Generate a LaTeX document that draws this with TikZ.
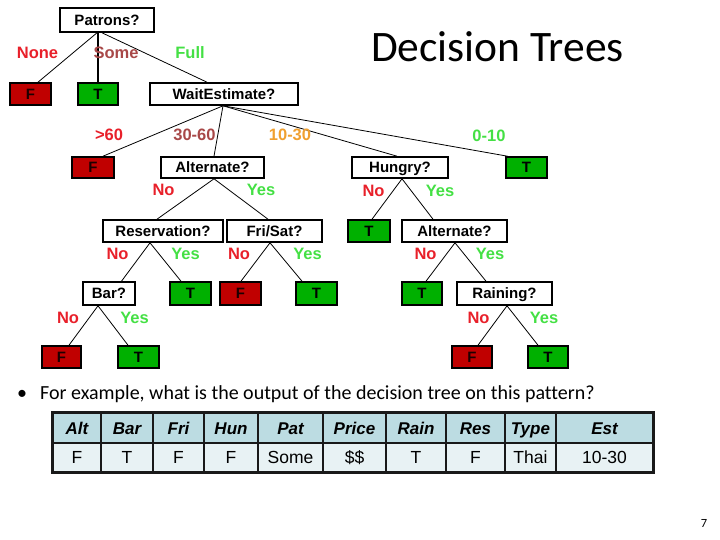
\documentclass[tikz,border=0pt]{standalone}
\usepackage{fontspec}
\setmainfont{Carlito}[Ligatures={NoCommon}]
\newfontfamily\arialf{Liberation Sans}
\usetikzlibrary{calc}
\definecolor{fred}{HTML}{C00000}
\definecolor{tgreen}{HTML}{00B000}
\definecolor{lred}{HTML}{E8202A}
\definecolor{lbrown}{HTML}{A84848}
\definecolor{lgreen}{HTML}{44E044}
\definecolor{lorange}{HTML}{F0A030}
\definecolor{thead}{HTML}{BCDCE2}
\definecolor{tdata}{HTML}{E8F2F4}
\tikzset{
  box/.style={draw=black, line width=1.6pt, rectangle, inner sep=0pt,
    minimum height=22pt, text height=10.7pt, text depth=0pt,
    font=\arialf\bfseries\fontsize{15}{18}\selectfont},
  qbox/.style={box, fill=white},
  fbox/.style={box, fill=fred, text=black!85!fred, minimum width=41pt},
  tbox/.style={box, fill=tgreen, text=black, minimum width=41pt},
  edge/.style={draw=black, line width=0.8pt},
  lab/.style={inner sep=0pt, text height=11.8pt, text depth=0pt,
    font=\arialf\bfseries\fontsize{16.5}{18}\selectfont},
  nolab/.style={lab, text=lred},
  yeslab/.style={lab, text=lgreen},
  cell/.style={draw=black!90, line width=1.5pt, rectangle, inner sep=0pt,
    text height=12.9pt, text depth=0pt},
  hcell/.style={cell, fill=thead, minimum height=30pt,
    font=\arialf\bfseries\itshape\fontsize{17}{20}\selectfont},
  dcell/.style={cell, fill=tdata, minimum height=29pt,
    font=\arialf\fontsize{17.5}{20}\selectfont},
}
\begin{document}
\begin{tikzpicture}[x=1pt,y=-1pt]
\useasboundingbox (0,0) rectangle (720,540);

% title and text
\node[anchor=base, inner sep=0pt] (title) at (497.5,62) {\fontsize{43.5}{50}\selectfont Decision Trees};
\node[anchor=base west, inner sep=0pt] (bul) at (17,399.5) {\fontsize{20}{24}\selectfont •};
\node[anchor=base west, inner sep=0pt] (q) at (40,399.5) {\fontsize{20}{24}\selectfont For example, what is the output of the decision tree on this pattern?};
\node[anchor=base, inner sep=0pt] (pg) at (704,527) {\fontsize{12.5}{14}\selectfont 7};

% tree nodes
\node[qbox, minimum width=94pt, minimum height=24pt] (patrons) at (107,20) {Patrons?};
\node[fbox] (fnone) at (30.5,94) {F};
\node[tbox, minimum width=40pt] (tsome) at (98,94) {T};
\node[qbox, minimum width=148pt] (wait) at (224,94) {WaitEstimate?};

\node[fbox, minimum width=42pt, minimum height=21pt] (f60) at (93,167.5) {F};
\node[qbox, minimum width=103pt, minimum height=21pt] (alt1) at (212.5,167.5) {Alternate?};
\node[qbox, minimum width=96pt, minimum height=21pt] (hungry) at (400,167.5) {Hungry?};
\node[tbox, minimum height=21pt] (t010) at (526.5,167.5) {T};

\node[qbox, minimum width=120pt] (res) at (163,231) {Reservation?};
\node[qbox, minimum width=95pt] (frisat) at (274.5,231) {Fri/Sat?};
\node[tbox, minimum width=42pt] (thno) at (369,231) {T};
\node[qbox, minimum width=105pt] (alt2) at (454.5,231) {Alternate?};

\node[qbox, minimum width=52pt, minimum height=23pt] (bar) at (109,293.5) {Bar?};
\node[tbox, minimum height=23pt] (tresyes) at (190.5,293.5) {T};
\node[fbox, minimum height=23pt] (ffrino) at (240.5,293.5) {F};
\node[tbox, minimum height=23pt] (tfriyes) at (316.5,293.5) {T};
\node[tbox, minimum width=40pt, minimum height=23pt] (taltno) at (422,293.5) {T};
\node[qbox, minimum width=95pt, minimum height=23pt] (raining) at (504.5,293.5) {Raining?};

\node[fbox, minimum width=39pt] (fbarno) at (61.5,357) {F};
\node[tbox] (tbaryes) at (138.5,357) {T};
\node[fbox, minimum width=40pt] (frainno) at (472,357) {F};
\node[tbox, minimum width=40pt] (trainyes) at (548,357) {T};

% fan-out points
\coordinate (po) at ($(patrons.south)+(-9,0)$);
\coordinate (wo) at ($(wait.south)+(-1,0)$);
\coordinate (ao) at ($(alt1.south)+(1.5,0)$);
\coordinate (ho) at ($(hungry.south)+(2,0)$);
\coordinate (ro) at ($(res.south)+(-13,0)$);
\coordinate (fo) at ($(frisat.south)+(-4.5,0)$);
\coordinate (a2o) at ($(alt2.south)+(0.5,0)$);
\coordinate (bo) at ($(bar.south)+(-11,0)$);
\coordinate (rno) at ($(raining.south)+(2.5,0)$);

% connectors
\draw[edge] ($(po)+(-1,0)$) -- ($(fnone.north)+(7.5,0)$);
\draw[edge, line width=2.4pt] (po) -- (tsome.north);
\draw[edge] ($(po)+(4,0)$) -- ($(wait.north)+(-17,0)$);
\draw[edge] (wo) -- ($(f60.north)+(10,0)$);
\draw[edge] (wo) -- ($(alt1.north)+(1.5,0)$);
\draw[edge] (wo) -- ($(hungry.north)+(-3,0)$);
\draw[edge] (wo) -- ($(t010.north)+(-19,0)$);
\draw[edge] (ao) -- ($(res.north)+(-6,0)$);
\draw[edge] (ao) -- ($(frisat.north)+(-6.5,0)$);
\draw[edge] (ho) -- ($(thno.north)+(3,0)$);
\draw[edge] (ho) -- ($(alt2.north)+(-21.5,0)$);
\draw[edge] (ro) -- ($(bar.north)+(12.5,0)$);
\draw[edge] (ro) -- ($(tresyes.north)+(-9.5,0)$);
\draw[edge] (fo) -- ($(ffrino.north)+(0.5,0)$);
\draw[edge] (fo) -- ($(tfriyes.north)+(-14.5,0)$);
\draw[edge] (a2o) -- ($(taltno.north)+(4,0)$);
\draw[edge] (a2o) -- ($(raining.north)+(-18.5,0)$);
\draw[edge] (bo) -- ($(fbarno.north)+(7.5,0)$);
\draw[edge] (bo) -- ($(tbaryes.north)+(-10.5,0)$);
\draw[edge] (rno) -- ($(frainno.north)+(6,0)$);
\draw[edge] (rno) -- ($(trainyes.north)+(-10,0)$);

% branch labels
\node[nolab] (lnone) at (37.5,53) {None};
\node[lab, text=lbrown] (lsome) at (116,53) {Some};
\node[yeslab] (lfull) at (190,53) {Full};
\node[nolab] (l60) at (109,135) {>60};
\node[lab, text=lbrown] (l3060) at (194.5,135) {30-60};
\node[lab, text=lorange] (l1030) at (290,135) {10-30};
\node[yeslab] (l010) at (489,136) {0-10};
\node[nolab] (a1no) at (163.5,190) {No};
\node[yeslab] (a1yes) at (261,190) {Yes};
\node[nolab] (hno) at (373.5,191) {No};
\node[yeslab] (hyes) at (440,191) {Yes};
\node[nolab] (rsno) at (117.5,254) {No};
\node[yeslab] (rsyes) at (185.5,254) {Yes};
\node[nolab] (fsno) at (239,254) {No};
\node[yeslab] (fsyes) at (307.5,254) {Yes};
\node[nolab] (a2no) at (425.5,254) {No};
\node[yeslab] (a2yes) at (490,254) {Yes};
\node[nolab] (bno) at (68,318) {No};
\node[yeslab] (byes) at (134.5,318) {Yes};
\node[nolab] (rnno) at (478.5,318) {No};
\node[yeslab] (rnyes) at (544,318) {Yes};

% table
\foreach \cx/\w/\hd/\dt [count=\i] in {77/48/Alt/F, 127/52/Bar/T, 178.5/51/Fri/F, 231/54/Hun/F, 290.5/65/Pat/Some, 354.5/63/Price/\$\$, 416/60/Rain/T, 475.5/59/Res/F, 530.5/51/Type/Thai, 604.5/97/Est/10-30}{
  \node[hcell, minimum width=\w pt] (h\i) at (\cx,428) {\hd};
  \node[dcell, minimum width=\w pt] (d\i) at (\cx,457.5) {\dt};
}
\draw[line width=2pt, black!90] (h1.north west) rectangle (d10.south east);
\end{tikzpicture}
\end{document}
